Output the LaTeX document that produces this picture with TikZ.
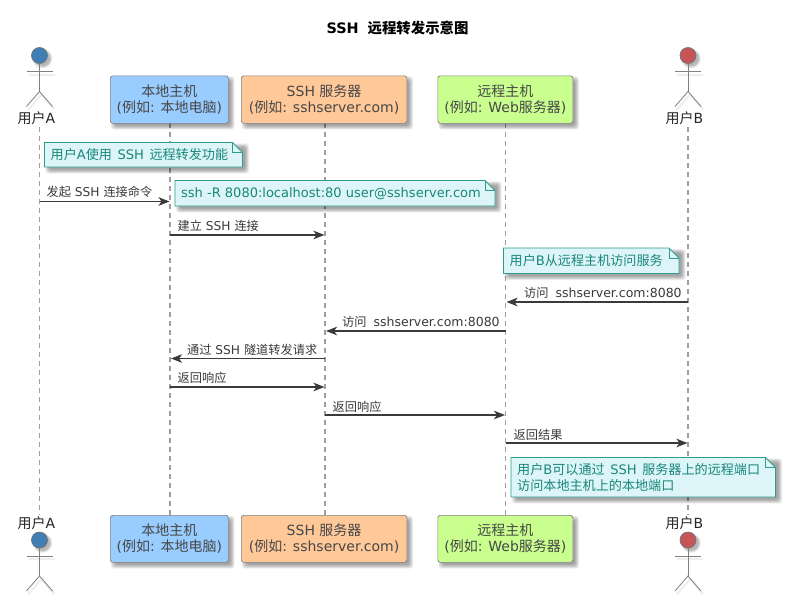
\documentclass[tikz,border=0pt]{standalone}
\usepackage{fontspec}
\setmainfont{DejaVu Sans}
\newfontfamily\cjk{Noto Sans CJK SC}
\newfontfamily\cjkbold{Noto Sans CJK SC Bold}
\newcommand{\zh}[1]{{\cjk #1}}
\usetikzlibrary{arrows.meta,calc}
\definecolor{inkgrey}{HTML}{3A3A3A}
\definecolor{notefill}{HTML}{DDF5F8}
\definecolor{noteline}{HTML}{2F9C8C}
\definecolor{notetext}{HTML}{17877A}
\definecolor{hostblue}{HTML}{99CCFF}
\definecolor{serverorange}{HTML}{FFC899}
\definecolor{remotegreen}{HTML}{C8FF8F}
\definecolor{actorblue}{HTML}{3F7FB5}
\definecolor{actorred}{HTML}{C85555}
\tikzset{
  lifeline/.style={draw=black!38,line width=1.1pt,dash pattern=on 5pt off 4pt},
  msg/.style={draw=inkgrey,line width=1.5pt,-{Stealth[length=11pt,width=8.5pt,inset=3pt]}},
  msgtext/.style={font=\fontsize{12.2}{14}\selectfont,text=inkgrey,anchor=base west,inner sep=0pt},
  boxtext/.style={font=\fontsize{14}{16}\selectfont,text=black!72,align=center,inner sep=0pt},
  notetxt/.style={font=\fontsize{13.1}{15.5}\selectfont,text=notetext,align=left,inner sep=0pt,anchor=west},
  actortext/.style={font=\fontsize{14}{16}\selectfont,text=black!85,inner sep=0pt},
  limb/.style={draw=black!50,line width=0.8pt},
}
% soft shadow behind a rectangle
\newcommand{\softshadow}[4]{%
  \foreach \g in {0,1,2,3,4,5,6,7}{
    \fill[black,opacity=0.05,rounded corners=3pt]
      ({#1+5-\g*0.6},{#2+5-\g*0.6}) rectangle ({#3+2.5+\g*0.6},{#4+2.5+\g*0.6});
  }}
% participant box: name, x1, y1, x2, y2, fill, text
\newcommand{\partbox}[7]{%
  \softshadow{#2}{#3}{#4}{#5}
  \node[draw=black!50,line width=0.7pt,fill=#6,rounded corners=2.5pt,inner sep=0pt,
        minimum width={(#4-#2)*1pt},minimum height={(#5-#3)*1pt},anchor=north west,
        boxtext] (#1) at (#2,#3) {#7};}
% note with folded corner: name, x1, y1, x2, y2, text
\newcommand{\notebox}[6]{%
  \softshadow{#2}{#3}{#4}{#5}
  \draw[fill=notefill,draw=noteline,line width=0.8pt]
    (#2,#3) -- ({#4-10},#3) -- (#4,{#3+10}) -- (#4,#5) -- (#2,#5) -- cycle;
  \draw[draw=noteline,line width=0.8pt] ({#4-10},#3) -- ({#4-10},{#3+10}) -- (#4,{#3+10});
  \node[notetxt] (#1) at ({#2+6},{(#3+#5)/2}) {#6};}
% stick figure: name, x, head centre y, fill
\newcommand{\stickman}[4]{%
  \foreach \g in {0,1,2,3}{\fill[black,opacity=0.08] ({#2+3},{#3+3}) circle ({7.4+\g*0.8});}
  \draw[black,opacity=0.07,line width=2pt] ({#2-11},{#3+19}) -- ({#2+15},{#3+19});
  \draw[black,opacity=0.07,line width=2pt] ({#2-11},{#3+54}) -- ({#2+2},{#3+39}) -- ({#2+15},{#3+54});
  \draw[limb] (#2,{#3+8}) -- (#2,{#3+36});
  \draw[limb] ({#2-13},{#3+16}) -- ({#2+13},{#3+16});
  \draw[limb] ({#2-13},{#3+51}) -- (#2,{#3+36}) -- ({#2+13},{#3+51});
  \node[draw=black!55,line width=0.7pt,fill=#4,circle,minimum size=16pt,inner sep=0pt] (#1) at (#2,#3) {};}
\begin{document}
\begin{tikzpicture}[x=1pt,y=-1pt]
\useasboundingbox (0,0) rectangle (791,610);
\fill[white] (0,0) rectangle (791,610);

\node[font=\fontsize{14.4}{16}\selectfont\bfseries,text=black,inner sep=0pt] (title) at (397.5,27.5)
  {SSH\hspace{4pt} {\cjkbold 远程转发示意图}};

% lifelines
\coordinate (la) at (39.5,127);  \coordinate (lae) at (39.5,515);
\coordinate (lb) at (170,123);   \coordinate (lbe) at (170,515);
\coordinate (lc) at (325,123);   \coordinate (lce) at (325,515);
\coordinate (ld) at (505.5,123); \coordinate (lde) at (505.5,515);
\coordinate (le) at (688,127);   \coordinate (lee) at (688,515);
\foreach \s/\e in {la/lae,lb/lbe,lc/lce,ld/lde,le/lee}{\draw[lifeline] (\s) -- (\e);}

% participants, top and bottom rows
\partbox{hostT}{110}{75.5}{228}{123}{hostblue}{\zh{本地主机}\\(\zh{例如}: \zh{本地电脑})}
\partbox{servT}{241}{75.5}{406.5}{123}{serverorange}{SSH \zh{服务器}\\(\zh{例如}: sshserver.com)}
\partbox{remT}{437.5}{75.5}{572.5}{123}{remotegreen}{\zh{远程主机}\\(\zh{例如}: Web\zh{服务器})}
\partbox{hostB}{110}{515}{228}{562}{hostblue}{\zh{本地主机}\\(\zh{例如}: \zh{本地电脑})}
\partbox{servB}{241}{515}{406.5}{562}{serverorange}{SSH \zh{服务器}\\(\zh{例如}: sshserver.com)}
\partbox{remB}{437.5}{515}{572.5}{562}{remotegreen}{\zh{远程主机}\\(\zh{例如}: Web\zh{服务器})}

% actors, top and bottom rows
\stickman{headAT}{39.5}{55.5}{actorblue}
\stickman{headBT}{688}{55.5}{actorred}
\stickman{headAB}{39.5}{540}{actorblue}
\stickman{headBB}{688}{540}{actorred}
\node[actortext] (userAT) at (36.5,118.5) {\zh{用户}A};
\node[actortext] (userBT) at (684.5,118.5) {\zh{用户}B};
\node[actortext] (userAB) at (36.5,523.5) {\zh{用户}A};
\node[actortext] (userBB) at (684.5,523.5) {\zh{用户}B};

% messages between lifelines
\draw[msg] (la |- 0,201.5) -- ([xshift=-0.5pt]lb |- 0,201.5);
\draw[msg] (lb |- 0,235) -- ([xshift=-0.5pt]lc |- 0,235);
\draw[msg] (le |- 0,302) -- ([xshift=1pt]ld |- 0,302);
\draw[msg] (ld |- 0,331) -- ([xshift=1pt]lc |- 0,331);
\draw[msg] (lc |- 0,358.5) -- ([xshift=1pt]lb |- 0,358.5);
\draw[msg] (lb |- 0,387) -- ([xshift=-0.5pt]lc |- 0,387);
\draw[msg] (lc |- 0,415) -- ([xshift=-0.5pt]ld |- 0,415);
\draw[msg] (ld |- 0,443) -- ([xshift=-0.5pt]le |- 0,443);

\node[msgtext] (m1) at (46.5,196) {\zh{发起} SSH \zh{连接命令}};
\node[msgtext] (m2) at (177.5,230) {\zh{建立} SSH \zh{连接}};
\node[msgtext] (m3) at (524,297) {\zh{访问}\hspace{7pt}{\fontsize{12.5}{14}\selectfont sshserver.com:8080}};
\node[msgtext] (m4) at (342,326) {\zh{访问}\hspace{7pt}{\fontsize{12.5}{14}\selectfont sshserver.com:8080}};
\node[msgtext] (m5) at (187,354) {\zh{通过} SSH \zh{隧道转发请求}};
\node[msgtext] (m6) at (177.5,382) {\zh{返回响应}};
\node[msgtext] (m7) at (332.5,411) {\zh{返回响应}};
\node[msgtext] (m8) at (513.5,439) {\zh{返回结果}};

% notes
\notebox{n1}{44.5}{142.5}{242.5}{167}{\zh{用户}A\zh{使用}\hspace{5.5pt}SSH\hspace{5.5pt}\zh{远程转发功能}}
\notebox{n2}{175}{180.5}{495}{206}{{\fontsize{13}{15.5}\selectfont ssh -R 8080:localhost:80 user@sshserver.com}}
\notebox{n3}{503.5}{248}{679}{273.5}{\zh{用户}B\zh{从远程主机访问服务}}
\notebox{n4}{511}{457.5}{775.5}{497}{\zh{用户}B\zh{可以通过}\hspace{5.5pt}SSH\hspace{5.5pt}\zh{服务器上的远程端口}\\\zh{访问本地主机上的本地端口}}
\end{tikzpicture}
\end{document}
